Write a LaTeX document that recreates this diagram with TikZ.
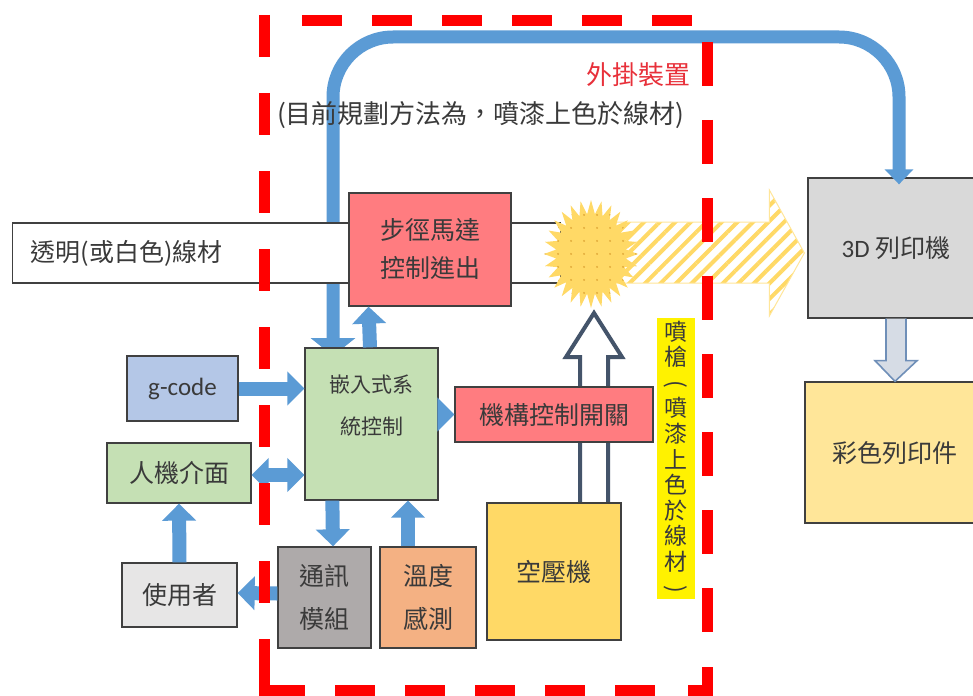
\documentclass[tikz,border=0pt]{standalone}
\usepackage{fontspec}
\setmainfont{Noto Sans CJK TC}
\newfontfamily\latinf{Carlito}
\usetikzlibrary{arrows.meta,calc,patterns,patterns.meta}
\definecolor{bl}{HTML}{5B9BD5}
\definecolor{salmon}{HTML}{FF7C80}
\definecolor{lgreen}{HTML}{C5E0B4}
\definecolor{lblue}{HTML}{B4C7E7}
\definecolor{lgray}{HTML}{E7E6E6}
\definecolor{mgray}{HTML}{AEAAAA}
\definecolor{orng}{HTML}{F4B183}
\definecolor{gold}{HTML}{FFD966}
\definecolor{lgold}{HTML}{FFE699}
\definecolor{pgray}{HTML}{D9D9D9}
\definecolor{slate}{HTML}{44546A}
\definecolor{txt}{HTML}{3A3A3A}
\definecolor{dred}{HTML}{FF0000}
\definecolor{tred}{HTML}{E8303A}
\definecolor{dotc}{HTML}{E0A838}
\definecolor{arrfill}{HTML}{D6DCE5}
\definecolor{arrline}{HTML}{6F8FB8}
\tikzdeclarepattern{
  name=bigdots,
  type=uncolored,
  bottom left={(-6.5pt,-6.5pt)},
  top right={(6.5pt,6.5pt)},
  tile size={(13pt,13pt)},
  code={\fill (0pt,0pt) circle (1.1pt);}
}
\newcommand{\vparen}[1]{\makebox[0pt]{\rotatebox[origin=c]{-90}{#1}}\rule{0pt}{14pt}}
\tikzset{
  box/.style={draw=black!75, line width=1.3pt, text=txt, inner sep=0pt, align=center,
    font=\fontsize{25}{38}\selectfont},
  barrow/.style={draw=bl, line width=14pt, -{Triangle[width=33pt,length=17pt]}},
  bdarrow/.style={draw=bl, line width=14pt, {Triangle[width=33pt,length=17pt]}-{Triangle[width=33pt,length=17pt]}},
  bigline/.style={draw=bl, line width=13pt, rounded corners=60pt,
    {Triangle[width=28pt,length=15pt]}-{Triangle[width=44pt,length=18pt]}},
  reddash/.style={draw=dred, line width=11pt},
  lbl/.style={text=txt, inner sep=0pt, align=center}
}
\begin{document}
\begin{tikzpicture}[x=1pt,y=-1pt]
\useasboundingbox (0,0) rectangle (973,695);
\fill[white] (0,0) rectangle (973,695);

% nodes (boxes)
\node[box, fill=pgray, minimum width=176, minimum height=140] (p3d) at (896,248) {{\latinf 3D} 列印機};
\node[box, fill=lgold, minimum width=180, minimum height=141] (color) at (895,452.5) {彩色列印件};

% big blue connector (behind everything else)
\draw[bigline] ($(p3d.north)+(3,7)$) -- (899,37) -- (333,37) -- (333,356);

% strip
\node[box, fill=white, anchor=west, minimum height=60, text width=512, inner xsep=18, align=left] (strip) at (12,253) {透明(或白色)線材};

% hatched arrow and starburst
\coordinate (burst) at (591,254);
\coordinate (hatip) at ($(p3d.west)+(-3,5)$);
\path[draw=lgold, line width=1pt, pattern={Lines[angle=45,distance=11pt,line width=4pt]}, pattern color=gold]
  ($(burst)+(25,-32)$) -- ($(hatip)+(-35,-31)$) -- ($(hatip)+(-35,-63)$) -- (hatip)
  -- ($(hatip)+(-35,63)$) -- ($(hatip)+(-35,30)$) -- ($(burst)+(25,29)$) -- cycle;
\begin{scope}[shift={(burst)}]
\path[fill=gold, postaction={pattern=bigdots, pattern color=dotc}]
  plot[variable=\k, samples at={0,...,55}]
  ({(41+6*cos(\k*180))*cos(\k*6.42857)}, {(47+7*cos(\k*180))*sin(\k*6.42857)}) -- cycle;
\end{scope}

% stepper box
\node[box, fill=salmon, minimum width=162, minimum height=113] (step1) at (430,249.5) {步徑馬達\\控制進出};

% embedded system
\node[box, fill=lgreen, minimum width=133, minimum height=152] (emb) at (371.5,424) {};
\node[lbl, font=\fontsize{21}{42}\selectfont] (embtext) at ($(emb.north)+(0,58)$) {嵌入式系\\統控制};

% other boxes
\node[box, fill=lblue, minimum width=111, minimum height=65] (gcode) at (182.5,388.5) {\latinf g-code};
\node[box, fill=lgreen, minimum width=144, minimum height=60] (hmi) at (179,473) {人機介面};
\node[box, fill=lgray, minimum width=115, minimum height=64] (user) at (179.5,595) {使用者};
\node[box, fill=mgray, minimum width=93, minimum height=101, font=\fontsize{25}{43}\selectfont] (comm) at (324.5,597.5) {通訊\\模組};
\node[box, fill=orng, minimum width=96, minimum height=101, font=\fontsize{25}{43}\selectfont] (temp) at (428,597.5) {溫度\\感測};

% hollow arrow from air compressor to burst (behind switch and compressor)
\coordinate (airtop) at (554,503);
\path[draw=slate, fill=white, line width=4pt, line join=miter]
  ($(airtop)+(26,0)$) -- ($(airtop)+(26,-146)$) -- ($(airtop)+(12,-146)$) -- ($(burst)+(3,59)$)
  -- ($(airtop)+(68,-146)$) -- ($(airtop)+(54,-146)$) -- ($(airtop)+(54,0)$);

\node[box, fill=gold, minimum width=134, minimum height=137] (air) at (554,571.5) {\raisebox{-8pt}{空壓機}};
\node[box, fill=salmon, minimum width=198, minimum height=55] (switch) at (554,414.5) {機構控制開關};

% gray arrow 3D printer -> color print
\path[draw=arrline, fill=arrfill, line width=1.6pt]
  ($(p3d.south)+(-10,0)$) -- ($(p3d.south)+(-10,42)$) -- ($(p3d.south)+(-21,42)$) -- (color.north)
  -- ($(p3d.south)+(21,42)$) -- ($(p3d.south)+(10,42)$) -- ($(p3d.south)+(10,0)$);

% blue block arrows
\draw[barrow] (gcode.east) -- (gcode.east -| emb.west);
\draw[barrow] ($(emb.north)+(-1.5,0)$) -- ($(step1.south)+(-61.5,0)$);
\draw[barrow] (emb.east |- switch.west) -- (switch.west);
\draw[bdarrow] ($(hmi.east)+(0,2)$) -- ($(emb.west)+(0,51)$);
\draw[barrow] (user.north) -- (hmi.south);
\draw[barrow] ($(emb.south west)+(28,0)$) -- ($(comm.north)+(8.5,0)$);
\draw[barrow] (temp.north -| 408,0) -- ($(emb.south)+(36.5,0)$);
\draw[barrow] ($(comm.west)+(0,-4)$) -- ($(user.east)+(0,-2)$);

% red dashed frame
\draw[reddash, dash pattern=on 42pt off 36pt] (264,15) -- (264,606);
\draw[reddash] (264,639) -- (264,690) -- (305,690);
\draw[reddash, dash pattern=on 40pt off 30pt] (335,690) -- (660,690);
\draw[reddash] (688,690) -- (707,690) -- (707,667);
\draw[reddash, dash pattern=on 44pt off 34pt] (707,42) -- (707,640);
\draw[reddash, dash pattern=on 40pt off 30pt] (302,21) -- (700,21);

% texts
\node[anchor=east, text=tred, inner sep=0pt, font=\fontsize{26}{30}\selectfont] (title) at (691,75) {外掛裝置};
\node[anchor=west, text=txt, inner sep=0pt, font=\fontsize{26}{30}\selectfont] (plan) at (277,115) {(目前規劃方法為，噴漆上色於線材)};
\node[fill=yellow, text=txt, inner xsep=0pt, inner ysep=3pt, minimum width=38, align=center,
  font=\fontsize{23}{25.6}\selectfont] (gun) at (676,458.5)
  {噴\\槍\\\vparen{(}\\噴\\漆\\上\\色\\於\\線\\材\\\vparen{)}};
\end{tikzpicture}
\end{document}
